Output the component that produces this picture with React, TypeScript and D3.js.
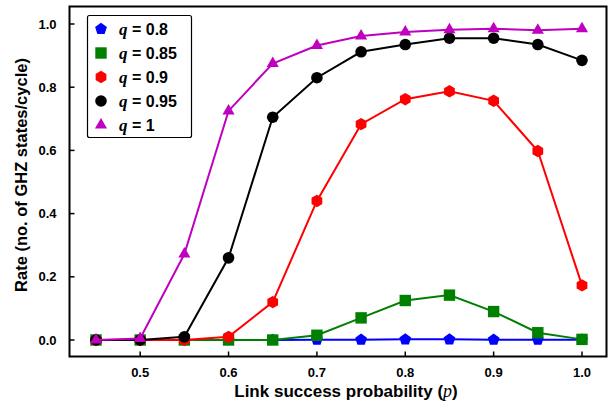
import React from "react";
import * as d3 from "d3";

const pValues = [0.45, 0.5, 0.55, 0.6, 0.65, 0.7, 0.75, 0.8, 0.85, 0.9, 0.95, 1.0];
const q08 = [0, 0, 0, 0, 0, 0.001, 0.001, 0.002, 0.002, 0.001, 0.001, 0.001];
const q085 = [0, 0, 0, 0, 0, 0.015, 0.07, 0.125, 0.142, 0.09, 0.023, 0.002];
const q09 = [0, 0, 0, 0.01, 0.12, 0.44, 0.683, 0.762, 0.787, 0.757, 0.598, 0.173];
const q095 = [0, 0, 0.01, 0.26, 0.705, 0.83, 0.912, 0.935, 0.955, 0.955, 0.935, 0.885];
const q1 = [0, 0.005, 0.272, 0.725, 0.875, 0.932, 0.962, 0.975, 0.982, 0.985, 0.98, 0.985];
const seriesLabels = ["0.8", "0.85", "0.9", "0.95", "1"];
const seriesColors = ["#0000ff", "#008000", "#ff0000", "#000000", "#bf00bf"];
const seriesShapes = ["pentagon", "square", "hexagon", "circle", "triangle"];
const xTicks = [0.5, 0.6, 0.7, 0.8, 0.9, 1.0];
const yTicks = [0, 0.2, 0.4, 0.6, 0.8, 1.0];

const allSeries = [q08, q085, q09, q095, q1];

function polygon(n: number, r: number, rot: number) {
  const pts: string[] = [];
  for (let i = 0; i < n; i++) {
    const a = rot + (i * 2 * Math.PI) / n;
    pts.push(`${(r * Math.cos(a)).toFixed(2)},${(r * Math.sin(a)).toFixed(2)}`);
  }
  return pts.join(" ");
}

function Marker({ shape, x, y, color }: { shape: string; x: number; y: number; color: string }) {
  const t = `translate(${x},${y})`;
  if (shape === "circle") return <circle cx={x} cy={y} r={5.8} fill={color} />;
  if (shape === "square") return <rect x={x - 5.7} y={y - 5.7} width={11.4} height={11.4} fill={color} />;
  if (shape === "pentagon") return <polygon transform={t} points={polygon(5, 6.2, -Math.PI / 2)} fill={color} />;
  if (shape === "hexagon") return <polygon transform={t} points={polygon(6, 6.2, -Math.PI / 2)} fill={color} />;
  return <polygon transform={t} points={polygon(3, 7, -Math.PI / 2)} fill={color} />;
}

export default function App() {
  const width = 611, height = 405;
  const frame = { left: 69.5, right: 606.5, top: 6.5, bottom: 356.5 };
  const x = d3.scaleLinear().domain([0.45, 1.0]).range([96, 582]);
  const y = d3.scaleLinear().domain([0, 1]).range([340, 24]);
  const line = d3.line<[number, number]>().x(d => x(d[0])).y(d => y(d[1]));
  const sans = "'Liberation Sans', Arial, sans-serif";
  const serif = "'Liberation Serif', 'Times New Roman', serif";

  return (
    <svg width={width} height={height} style={{ position: "absolute", left: 0, top: 0 }}>
      <rect width={width} height={height} fill="#fff" />
      {allSeries.map((vals, si) => (
        <g key={si}>
          <path d={line(pValues.map((p, i) => [p, vals[i]] as [number, number])) || ""} fill="none" stroke={seriesColors[si]} strokeWidth={2} />
          {pValues.map((p, i) => (
            <Marker key={i} shape={seriesShapes[si]} x={x(p)} y={y(vals[i])} color={seriesColors[si]} />
          ))}
        </g>
      ))}
      <rect x={frame.left} y={frame.top} width={frame.right - frame.left} height={frame.bottom - frame.top} fill="none" stroke="#000" strokeWidth={2} />
      {xTicks.map(t => (
        <g key={t}>
          <line x1={x(t)} x2={x(t)} y1={frame.bottom} y2={frame.bottom - 5} stroke="#000" strokeWidth={1.5} />
          <text x={x(t)} y={frame.bottom + 20} textAnchor="middle" fontFamily={sans} fontWeight="bold" fontSize={13}>{t.toFixed(1)}</text>
        </g>
      ))}
      {yTicks.map(t => (
        <g key={t}>
          <line x1={frame.left} x2={frame.left + 5} y1={y(t)} y2={y(t)} stroke="#000" strokeWidth={1.5} />
          <text x={frame.left - 13} y={y(t) + 4.5} textAnchor="end" fontFamily={sans} fontWeight="bold" fontSize={13}>{t.toFixed(1)}</text>
        </g>
      ))}
      <text x={346} y={397} textAnchor="middle" fontFamily={sans} fontWeight="bold" fontSize={17}>
        Link success probability (<tspan fontFamily={serif} fontStyle="italic" fontWeight="normal" fontSize={18}>p</tspan>)
      </text>
      <text transform={`translate(27,175) rotate(-90)`} textAnchor="middle" fontFamily={sans} fontWeight="bold" fontSize={16.5}>
        Rate (no. of GHZ states/cycle)
      </text>
      <g>
        <rect x={87.5} y={15.5} width={104} height={122} rx={2} fill="#fff" stroke="#000" strokeWidth={1.2} />
        {seriesLabels.map((lab, i) => {
          const ly = 29 + i * 24;
          return (
            <g key={lab}>
              <Marker shape={seriesShapes[i]} x={101} y={ly} color={seriesColors[i]} />
              <text x={119} y={ly + 5.5} fontFamily={sans} fontWeight="bold" fontSize={16}>
                <tspan fontFamily={serif} fontStyle="italic" fontSize={17}>q</tspan> = {lab}
              </text>
            </g>
          );
        })}
      </g>
    </svg>
  );
}
